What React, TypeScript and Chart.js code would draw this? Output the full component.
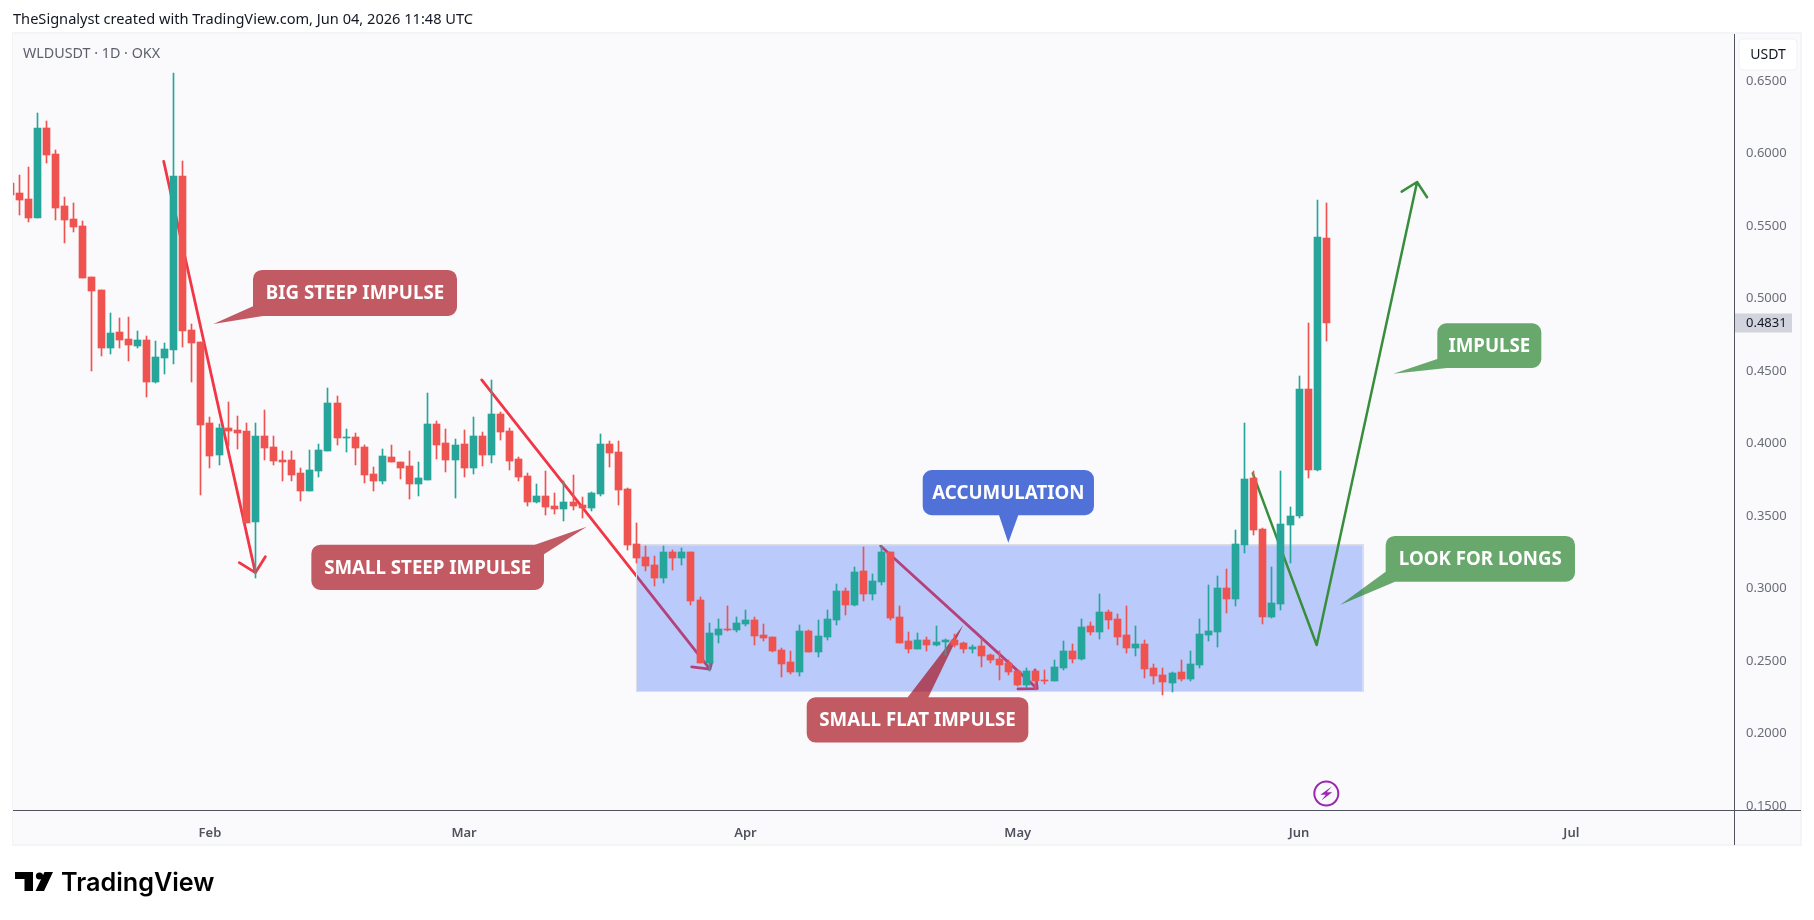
import { useEffect, useRef } from "react";
import { Chart, registerables } from "chart.js";

Chart.register(...registerables);

const opens = [
  0.5797, 0.5727, 0.5686, 0.5555, 0.6176, 0.5996, 0.5638, 0.5548, 0.55, 0.5148,
  0.5059, 0.4659, 0.4769, 0.4721, 0.4673, 0.4714, 0.4424, 0.459, 0.4645, 0.5845,
  0.4783, 0.47, 0.4141, 0.3921, 0.4107, 0.4093, 0.4086, 0.3458, 0.4052, 0.3976,
  0.3886, 0.3886, 0.3797, 0.3672, 0.381, 0.3948, 0.4279, 0.4038, 0.4045, 0.3976,
  0.379, 0.3741, 0.3907, 0.3872, 0.3845, 0.3721, 0.3748, 0.4134, 0.4003, 0.3886,
  0.3997, 0.3831, 0.4052, 0.3921, 0.4203, 0.4086, 0.3893, 0.3776, 0.3596, 0.3638,
  0.3569, 0.3548, 0.3596, 0.3576, 0.3555, 0.3652, 0.3997, 0.3941, 0.3686, 0.3307,
  0.3217, 0.3162, 0.3072, 0.3252, 0.321, 0.3252, 0.2921, 0.2486, 0.2679, 0.2721,
  0.2714, 0.2755, 0.2783, 0.2679, 0.2666, 0.2576, 0.2493, 0.2424, 0.2707, 0.2562,
  0.2666, 0.2783, 0.2983, 0.2886, 0.3121, 0.2962, 0.3045, 0.3252, 0.2803, 0.2638,
  0.2583, 0.2645, 0.261, 0.2631, 0.2645, 0.2624, 0.2583, 0.2603, 0.2541, 0.2514,
  0.2486, 0.2431, 0.2334, 0.2431, 0.2369, 0.2362, 0.2452, 0.2569, 0.2514, 0.2741,
  0.27, 0.2838, 0.279, 0.2679, 0.259, 0.2617, 0.2452, 0.2403, 0.2348, 0.2424,
  0.2376, 0.2472, 0.2679, 0.27, 0.3003, 0.2928, 0.33, 0.3762, 0.341, 0.2803,
  0.2893, 0.3438, 0.35, 0.4376, 0.3817, 0.5417,
];
const closes = [
  0.5714, 0.5679, 0.5555, 0.6176, 0.599, 0.5624, 0.5541, 0.5493, 0.5141, 0.5052,
  0.4659, 0.4762, 0.4714, 0.468, 0.4714, 0.4424, 0.4597, 0.4652, 0.5845, 0.4776,
  0.4693, 0.4128, 0.3914, 0.4107, 0.4086, 0.4072, 0.3451, 0.4052, 0.3969, 0.3879,
  0.3872, 0.3783, 0.3672, 0.3817, 0.3955, 0.4279, 0.4038, 0.4045, 0.3969, 0.3783,
  0.3741, 0.3914, 0.3872, 0.3831, 0.3721, 0.3762, 0.4134, 0.399, 0.3886, 0.399,
  0.3831, 0.4052, 0.3921, 0.4203, 0.4079, 0.3879, 0.3769, 0.3596, 0.3638, 0.3562,
  0.3548, 0.3596, 0.3569, 0.3555, 0.3659, 0.3997, 0.3934, 0.3679, 0.33, 0.321,
  0.3155, 0.3072, 0.3252, 0.321, 0.3252, 0.2914, 0.2486, 0.2693, 0.2721, 0.2714,
  0.2762, 0.2783, 0.2672, 0.2659, 0.2569, 0.2479, 0.2424, 0.2707, 0.2562, 0.2672,
  0.279, 0.2983, 0.2886, 0.3114, 0.2962, 0.3052, 0.3252, 0.2797, 0.2624, 0.2583,
  0.2645, 0.261, 0.2631, 0.2645, 0.261, 0.2583, 0.2597, 0.2534, 0.2507, 0.2472,
  0.2424, 0.2334, 0.2431, 0.2362, 0.2362, 0.2459, 0.2569, 0.2514, 0.2734, 0.27,
  0.2838, 0.2783, 0.2666, 0.259, 0.2617, 0.2445, 0.2397, 0.2355, 0.2417, 0.2376,
  0.2479, 0.2686, 0.2707, 0.3003, 0.2928, 0.3307, 0.3755, 0.3403, 0.2803, 0.29,
  0.3445, 0.35, 0.4376, 0.3817, 0.5424, 0.4831,
];
const highs = [
  0.5817, 0.5852, 0.5907, 0.6279, 0.6224, 0.6024, 0.57, 0.5658, 0.5534, 0.5148,
  0.5059, 0.49, 0.4866, 0.4873, 0.4776, 0.4742, 0.4707, 0.4693, 0.6555, 0.5948,
  0.4824, 0.47, 0.4183, 0.4134, 0.4286, 0.419, 0.4141, 0.4141, 0.4231, 0.4052,
  0.3948, 0.3948, 0.3831, 0.3955, 0.3997, 0.4383, 0.4328, 0.41, 0.4072, 0.399,
  0.3838, 0.3962, 0.399, 0.3872, 0.3948, 0.3872, 0.4348, 0.4155, 0.41, 0.4031,
  0.4093, 0.4183, 0.4079, 0.4438, 0.4217, 0.4107, 0.3907, 0.3797, 0.3721, 0.381,
  0.3659, 0.3741, 0.3783, 0.3631, 0.3666, 0.4066, 0.4017, 0.4017, 0.3693, 0.3451,
  0.3293, 0.3224, 0.3293, 0.3266, 0.3279, 0.3252, 0.2941, 0.2762, 0.279, 0.2879,
  0.2803, 0.2852, 0.2803, 0.2755, 0.2666, 0.259, 0.2569, 0.2748, 0.2714, 0.2783,
  0.2852, 0.3031, 0.3003, 0.3148, 0.3286, 0.31, 0.3293, 0.3252, 0.2879, 0.27,
  0.2693, 0.2666, 0.2741, 0.2652, 0.2686, 0.2631, 0.261, 0.2652, 0.2548, 0.2569,
  0.2507, 0.2438, 0.2452, 0.2438, 0.2438, 0.2507, 0.2638, 0.2617, 0.279, 0.2769,
  0.2962, 0.2852, 0.2824, 0.2879, 0.2741, 0.2645, 0.2479, 0.2452, 0.2424, 0.2507,
  0.2569, 0.279, 0.3024, 0.3086, 0.3134, 0.3403, 0.4141, 0.381, 0.3417, 0.3148,
  0.381, 0.3562, 0.4466, 0.4831, 0.5679, 0.5658,
];
const lows = [
  0.5693, 0.5576, 0.5527, 0.5555, 0.5934, 0.5541, 0.5382, 0.5458, 0.5141, 0.45,
  0.4604, 0.4617, 0.4659, 0.4569, 0.4659, 0.4321, 0.4417, 0.448, 0.4549, 0.4666,
  0.4424, 0.3645, 0.3831, 0.3852, 0.3983, 0.3962, 0.3451, 0.3073, 0.3886, 0.3852,
  0.3741, 0.3741, 0.3603, 0.3672, 0.3769, 0.3948, 0.399, 0.3941, 0.3852, 0.3727,
  0.3672, 0.3721, 0.3872, 0.3755, 0.3617, 0.3638, 0.3748, 0.3893, 0.3803, 0.3624,
  0.3769, 0.379, 0.3845, 0.3866, 0.4024, 0.3817, 0.3741, 0.3569, 0.3589, 0.3507,
  0.3514, 0.3466, 0.3541, 0.3486, 0.3534, 0.3638, 0.3838, 0.3576, 0.3266, 0.3176,
  0.3121, 0.3017, 0.3038, 0.3128, 0.3162, 0.2886, 0.2486, 0.2431, 0.2624, 0.2707,
  0.27, 0.2741, 0.261, 0.2638, 0.2562, 0.239, 0.241, 0.2397, 0.2562, 0.2528,
  0.2645, 0.2748, 0.2817, 0.2879, 0.2914, 0.2921, 0.3024, 0.2783, 0.2624, 0.2555,
  0.2583, 0.2569, 0.2603, 0.2541, 0.2597, 0.2555, 0.2555, 0.2459, 0.2486, 0.2369,
  0.2403, 0.2328, 0.2314, 0.23, 0.2341, 0.2362, 0.2438, 0.2486, 0.2507, 0.2679,
  0.2652, 0.2721, 0.261, 0.2555, 0.2534, 0.2383, 0.2341, 0.2266, 0.2286, 0.2362,
  0.2362, 0.2452, 0.2638, 0.2597, 0.2831, 0.2879, 0.3245, 0.3369, 0.2755, 0.2797,
  0.2852, 0.3176, 0.3486, 0.3762, 0.381, 0.4707,
];

const monthTicks = [22, 50, 81, 111, 142, 172];
const monthLabels = ["Feb", "Mar", "Apr", "May", "Jun", "Jul"];
const lastPrice = 0.4831;

const redArrowBig = [[16.9, 0.5946], [27.0, 0.3109], [25.23, 0.3178], [27.0, 0.3109], [28.1, 0.3219]];
const redArrowSmall = [[51.94, 0.4438], [77.09, 0.2443], [75.08, 0.2459], [77.09, 0.2443], [77.3, 0.2495]];
const redArrowFlat = [[95.9, 0.3293], [113.15, 0.2309], [111.03, 0.2307], [113.15, 0.2309], [112.9, 0.2438]];
const greenArrow = [[136.9, 0.3794], [143.94, 0.261], [155.0, 0.5803], [153.3, 0.5737], [155.0, 0.5803], [156.1, 0.5698]];

const accumulationBox = { left: 69, right: 149, top: 0.3298, bottom: 0.2291 };

const red = "rgba(165, 4, 18, 0.65)";
const green = "rgba(27, 125, 30, 0.65)";
const blue = "rgb(80, 114, 216)";
const callouts = [
  { text: "BIG STEEP IMPULSE", color: red, box: [26.74, 0.5197, 49.22, 0.4879], tail: [[26.74, 0.4947], [22.37, 0.4824], [27.84, 0.4879]] },
  { text: "SMALL STEEP IMPULSE", color: red, box: [33.17, 0.3302, 58.8, 0.299], tail: [[57.81, 0.3302], [63.51, 0.3426], [58.8, 0.3236]] },
  { text: "ACCUMULATION", color: blue, box: [100.53, 0.3817, 119.4, 0.3505], tail: [[108.94, 0.3505], [109.96, 0.3316], [111.06, 0.3505]] },
  { text: "SMALL FLAT IMPULSE", color: red, box: [87.75, 0.225, 112.17, 0.1937], tail: [[98.88, 0.225], [105.0, 0.2748], [101.15, 0.225]] },
  { text: "IMPULSE", color: green, box: [157.23, 0.4829, 168.69, 0.4521], tail: [[157.23, 0.4583], [152.38, 0.4481], [158.3, 0.4521]] },
  { text: "LOOK FOR LONGS", color: green, box: [151.54, 0.3362, 172.4, 0.3047], tail: [[151.54, 0.3116], [146.51, 0.2886], [152.57, 0.3047]] },
];

const UP = "#26a69a";
const DOWN = "#ef5350";
const AXIS = "#50535e";
const FONT = '"Noto Sans", sans-serif';

const toXY = (line: number[][]) => line.map(([x, y]) => ({ x, y }));
const days = opens.map((_, i) => i);
const candleColors = days.map((i) => (closes[i] >= opens[i] ? UP : DOWN));

function arrowDataset(label: string, line: number[][], color: string, width: number, order: number) {
  return {
    type: "line" as const,
    label,
    data: toXY(line),
    borderColor: color,
    borderWidth: width,
    borderJoinStyle: "round" as const,
    borderCapStyle: "round" as const,
    pointRadius: 0,
    tension: 0,
    order,
  };
}

// candles look blurry otherwise, TradingView snaps them to whole pixels
const snapCandles = {
  id: "snapCandles",
  beforeDatasetDraw(chart: any, args: any) {
    if (args.meta.type !== "bar") return;
    for (const el of args.meta.data) {
      el.x = Math.round(el.x - 0.5) + 0.5;
      el.y = Math.round(el.y);
      el.base = Math.round(el.base);
      if (el.base === el.y) el.base = el.y + 1;
    }
  },
};

function drawCallout(chart: any, c: (typeof callouts)[number]) {
  const { ctx, scales } = chart;
  const px = (v: number) => scales.x.getPixelForValue(v);
  const py = (v: number) => scales.y.getPixelForValue(v);
  const [l, t, r, b] = [px(c.box[0]), py(c.box[1]), px(c.box[2]), py(c.box[3])];
  let tail = c.tail.map(([x, y]) => [px(x), py(y)]);
  // same winding as roundRect, so the overlap is not painted twice
  const cross =
    (tail[1][0] - tail[0][0]) * (tail[2][1] - tail[0][1]) -
    (tail[1][1] - tail[0][1]) * (tail[2][0] - tail[0][0]);
  if (cross < 0) tail = [tail[2], tail[1], tail[0]];
  ctx.save();
  ctx.fillStyle = c.color;
  ctx.beginPath();
  ctx.roundRect(l, t, r - l, b - t, 9);
  ctx.moveTo(tail[0][0], tail[0][1]);
  ctx.lineTo(tail[1][0], tail[1][1]);
  ctx.lineTo(tail[2][0], tail[2][1]);
  ctx.closePath();
  ctx.fill("nonzero");
  ctx.fillStyle = "#ffffff";
  ctx.font = `700 18.7px ${FONT}`;
  ctx.textAlign = "center";
  ctx.textBaseline = "middle";
  ctx.fillText(c.text, (l + r) / 2, (t + b) / 2 + 1);
  ctx.restore();
}

const drawings = {
  id: "drawings",
  beforeDraw(chart: any) {
    const { ctx } = chart;
    ctx.save();
    ctx.fillStyle = "#ffffff";
    ctx.fillRect(0, 0, 1814, 920);
    ctx.fillStyle = "#f3f4f6";
    ctx.fillRect(12, 32, 1790, 814);
    ctx.fillStyle = "#fafafc";
    ctx.fillRect(13, 34, 1787, 810);
    ctx.restore();
  },
  // rectangle sits over the red arrows but under the green one and the candles
  beforeDatasetDraw(chart: any, args: any) {
    if (args.meta.label !== "green arrow") return;
    const { ctx, scales } = chart;
    const l = scales.x.getPixelForValue(accumulationBox.left);
    const r = scales.x.getPixelForValue(accumulationBox.right);
    const t = scales.y.getPixelForValue(accumulationBox.top);
    const b = scales.y.getPixelForValue(accumulationBox.bottom);
    ctx.save();
    ctx.fillStyle = "rgba(40, 93, 248, 0.3)";
    ctx.fillRect(l, t, r - l, b - t);
    ctx.strokeStyle = "#dcdde4";
    ctx.lineWidth = 1;
    ctx.strokeRect(Math.round(l) - 0.5, Math.round(t) - 0.5, Math.round(r - l) + 1, Math.round(b - t) + 1);
    ctx.restore();
    callouts.forEach((c) => drawCallout(chart, c));
  },
  afterDraw(chart: any) {
    const { ctx, scales } = chart;
    ctx.save();
    // the lowest price label is cut off by the time axis
    ctx.fillStyle = "#fafafc";
    ctx.fillRect(1735, 811, 65, 20);

    ctx.fillStyle = AXIS;
    ctx.fillRect(13, 810, 1788, 1);
    ctx.fillRect(1734, 34, 1, 811);

    // header and pane legend
    ctx.textBaseline = "middle";
    ctx.textAlign = "left";
    ctx.fillStyle = "#131722";
    ctx.font = `14.6px ${FONT}`;
    ctx.fillText("TheSignalyst created with TradingView.com, Jun 04, 2026 11:48 UTC", 13, 20);
    ctx.fillStyle = "#5d606b";
    ctx.font = `14.3px ${FONT}`;
    ctx.fillText("WLDUSDT · 1D · OKX", 23, 54);

    // currency button
    ctx.fillStyle = "#ffffff";
    ctx.beginPath();
    ctx.roundRect(1739, 39, 58, 31, 4);
    ctx.fill();
    ctx.strokeStyle = "#f0f1f4";
    ctx.stroke();
    ctx.fillStyle = "#131722";
    ctx.textAlign = "center";
    ctx.font = `14px ${FONT}`;
    ctx.fillText("USDT", 1768, 55);

    // last price tag
    const lastY = scales.y.getPixelForValue(lastPrice);
    ctx.fillStyle = "#d1d4dc";
    ctx.fillRect(1735, lastY - 9.5, 57, 19);
    ctx.fillStyle = "#131722";
    ctx.textAlign = "left";
    ctx.font = `13px ${FONT}`;
    ctx.fillText(lastPrice.toFixed(4), 1746, lastY + 0.5);

    // purple bolt marker under the last candle
    const mx = scales.x.getPixelForValue(days[days.length - 1]);
    const my = 793.5;
    ctx.strokeStyle = "#9c27b0";
    ctx.lineWidth = 2;
    ctx.beginPath();
    ctx.arc(mx, my, 12, 0, Math.PI * 2);
    ctx.stroke();
    ctx.fillStyle = "#9c27b0";
    ctx.beginPath();
    ctx.moveTo(mx + 5.5, my - 7);
    ctx.lineTo(mx - 6, my + 1.2);
    ctx.lineTo(mx - 0.5, my + 1.2);
    ctx.lineTo(mx - 5, my + 7);
    ctx.lineTo(mx + 6, my - 1.2);
    ctx.lineTo(mx + 0.5, my - 1.2);
    ctx.closePath();
    ctx.fill();

    // TradingView wordmark
    ctx.fillStyle = "#000000";
    ctx.fillRect(15, 872, 18, 7);
    ctx.fillRect(24.5, 872, 8.5, 19);
    ctx.beginPath();
    ctx.arc(39.5, 876, 3.6, 0, Math.PI * 2);
    ctx.fill();
    ctx.beginPath();
    ctx.moveTo(44.5, 872);
    ctx.lineTo(53, 872);
    ctx.lineTo(44, 891);
    ctx.lineTo(35.5, 891);
    ctx.closePath();
    ctx.fill();
    ctx.textAlign = "left";
    ctx.textBaseline = "alphabetic";
    ctx.font = `600 25.2px Inter, ${FONT}`;
    ctx.fillText("TradingView", 61, 891);
    ctx.restore();
  },
};

export default function App() {
  const canvasRef = useRef<HTMLCanvasElement | null>(null);

  useEffect(() => {
    if (!canvasRef.current) return;
    const chart = new Chart(canvasRef.current, {
      type: "bar",
      data: {
        datasets: [
          {
            label: "body",
            data: days.map((i) => ({ x: i, y: [opens[i], closes[i]] })),
            backgroundColor: candleColors,
            barThickness: 7,
            grouped: false,
            order: 1,
          },
          {
            label: "wick",
            data: days.map((i) => ({ x: i, y: [lows[i], highs[i]] })),
            backgroundColor: candleColors,
            barThickness: 1,
            grouped: false,
            order: 2,
          },
          arrowDataset("green arrow", greenArrow, "#388e3c", 2.5, 3),
          arrowDataset("red arrow 1", redArrowBig, "#f23645", 2.8, 4),
          arrowDataset("red arrow 2", redArrowSmall, "#f23645", 2.8, 4),
          arrowDataset("red arrow 3", redArrowFlat, "#f23645", 2.8, 4),
        ] as any,
      },
      options: {
        responsive: false,
        animation: false,
        devicePixelRatio: 1,
        layout: { padding: { left: 13, top: 34, right: 12, bottom: 75 } },
        plugins: { legend: { display: false }, tooltip: { enabled: false } },
        scales: {
          x: {
            type: "linear",
            offset: false,
            min: 0.2975,
            max: 189.92,
            grid: { display: false },
            border: { display: false },
            afterBuildTicks: (scale: any) => {
              scale.ticks = monthTicks.map((value) => ({ value }));
            },
            afterFit: (scale: any) => {
              scale.height = 35;
            },
            ticks: {
              autoSkip: false,
              maxRotation: 0,
              padding: 7,
              color: AXIS,
              font: { family: FONT, size: 13, weight: 600 },
              callback: (value: any) => monthLabels[monthTicks.indexOf(value)],
            },
          },
          y: {
            type: "linear",
            position: "right",
            min: 0.1472,
            max: 0.6824,
            grid: { display: false },
            border: { display: false },
            afterFit: (scale: any) => {
              scale.width = 68;
            },
            ticks: {
              stepSize: 0.05,
              includeBounds: false,
              autoSkip: false,
              drawTicks: false,
              padding: 4,
              color: "#6a6d78",
              font: { family: FONT, size: 13 },
              callback: (value: any) => Number(value).toFixed(4),
            },
          },
        },
      },
      plugins: [snapCandles, drawings],
    } as any);
    return () => chart.destroy();
  }, []);

  return (
    <div style={{ position: "absolute", left: 0, top: 0, width: 1814, height: 920 }}>
      <canvas ref={canvasRef} width={1814} height={920} style={{ display: "block" }} />
    </div>
  );
}
